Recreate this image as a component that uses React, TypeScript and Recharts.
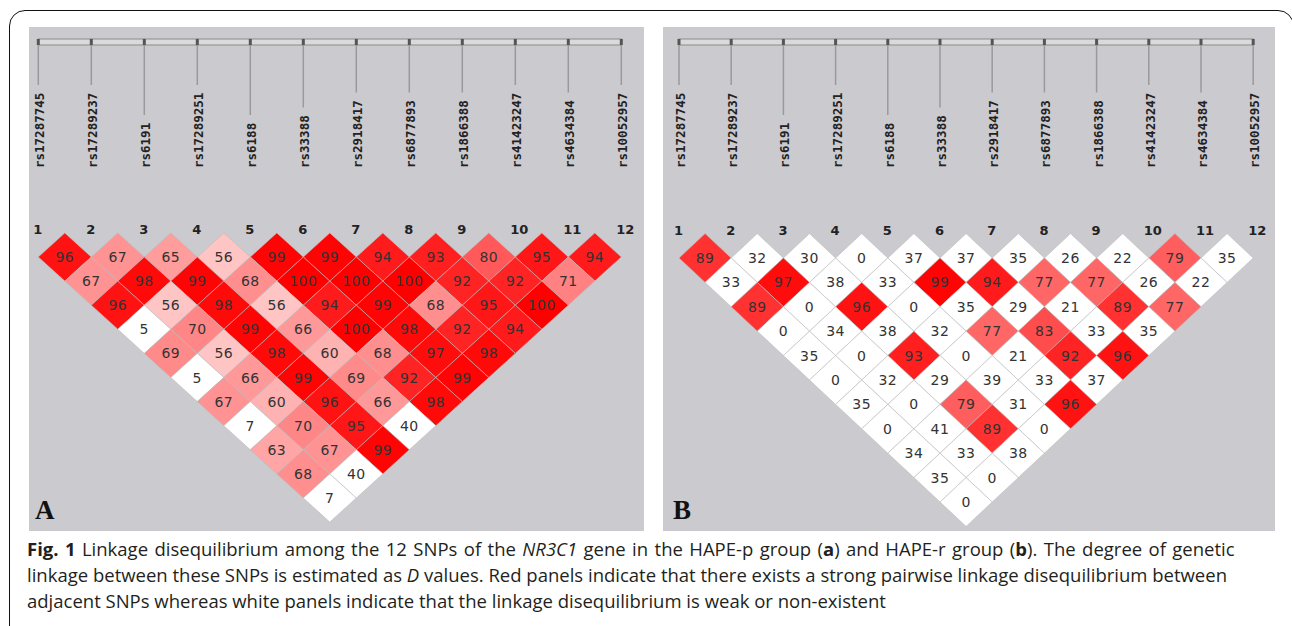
import React from "react";
import { ScatterChart, Scatter, XAxis, YAxis } from "recharts";

// SNP markers along the gene, in order
const snpNames = [
  "rs17287745",
  "rs17289237",
  "rs6191",
  "rs17289251",
  "rs6188",
  "rs33388",
  "rs2918417",
  "rs6877893",
  "rs1866388",
  "rs41423247",
  "rs4634384",
  "rs10052957",
];

// D' x 100, row k holds the pairs (i, i+k)
const hapePRows: number[][] = [
  [96, 67, 65, 56, 99, 99, 94, 93, 80, 95, 94],
  [67, 98, 99, 68, 100, 100, 100, 92, 92, 71],
  [96, 56, 98, 56, 94, 99, 68, 95, 100],
  [5, 70, 99, 66, 100, 98, 92, 94],
  [69, 56, 98, 60, 68, 97, 98],
  [5, 66, 99, 69, 92, 99],
  [67, 60, 96, 66, 98],
  [7, 70, 95, 40],
  [63, 67, 99],
  [68, 40],
  [7],
];

const hapeRRows: number[][] = [
  [89, 32, 30, 0, 37, 37, 35, 26, 22, 79, 35],
  [33, 97, 38, 33, 99, 94, 77, 77, 26, 22],
  [89, 0, 96, 0, 35, 29, 21, 89, 77],
  [0, 34, 38, 32, 77, 83, 33, 35],
  [35, 0, 93, 0, 21, 92, 96],
  [0, 32, 29, 39, 33, 37],
  [35, 0, 79, 31, 96],
  [0, 41, 89, 0],
  [34, 33, 38],
  [35, 0],
  [0],
];

const PANEL_TOP = 27;
const PANEL_H = 504;

type PanelCfg = {
  letter: string;
  left: number;
  width: number;
  m1: number; // x of marker 1 inside panel
  sp: number; // marker spacing
  row1: number; // y of first row inside panel
  step: number; // row step
  rows: number[][];
};

const panels: PanelCfg[] = [
  { letter: "A", left: 29, width: 615, m1: 9.3, sp: 53.0, row1: 230, step: 24.1, rows: hapePRows },
  { letter: "B", left: 663, width: 612, m1: 16, sp: 52.2, row1: 231, step: 24.4, rows: hapeRRows },
];

const cellColor = (v: number) => {
  if (v < 50) return "#ffffff";
  const g = Math.max(0, Math.min(255, Math.round(446 * (1 - v / 100))));
  return `rgb(255,${g},${g})`;
};

const buildCells = (rows: number[][]) => {
  const out: { x: number; y: number; v: number }[] = [];
  rows.forEach((row, ki) => {
    const k = ki + 1;
    row.forEach((v, ii) => {
      out.push({ x: ii + 1 + k / 2, y: k, v });
    });
  });
  return out;
};

const markerData = snpNames.map((name, i) => ({ x: i + 1, y: 0, idx: i + 1, name }));

const LDPanel: React.FC<{ cfg: PanelCfg }> = ({ cfg }) => {
  const { sp, step } = cfg;
  const xmin = 1 - cfg.m1 / sp;
  const xmax = xmin + cfg.width / sp;
  const ymin = 1 - cfg.row1 / step;
  const ymax = ymin + PANEL_H / step;
  const cells = buildCells(cfg.rows);
  const hw = sp / 2;
  const hh = step;

  const cellShape = (p: any) => {
    const { cx, cy, payload } = p;
    const pts = `${cx - hw},${cy} ${cx},${cy - hh} ${cx + hw},${cy} ${cx},${cy + hh}`;
    return (
      <g>
        <polygon points={pts} fill={cellColor(payload.v)} stroke="#bdbdbd" strokeOpacity={0.6} strokeWidth={1} />
        <text x={cx} y={cy + 5} textAnchor="middle" fontSize={14} fontFamily="DejaVu Sans" fill="#333" letterSpacing={0.5}>
          {payload.v}
        </text>
      </g>
    );
  };

  const markerShape = (p: any) => {
    const { cx, cy, payload } = p;
    const textBottom = 141;
    const textTop = textBottom - payload.name.length * 7.5;
    const lineEnd = textTop - 8;
    return (
      <g>
        {payload.idx < snpNames.length && (
          <rect x={cx} y={12} width={sp} height={6} fill="#dadada" stroke="#8c8c8c" strokeWidth={1} />
        )}
        <rect x={cx - 1.5} y={12} width={3} height={6} fill="#555" />
        <line x1={cx} y1={18} x2={cx} y2={lineEnd} stroke="#9a9a9a" strokeWidth={1.5} />
        <text
          transform={`translate(${cx + 6},${textBottom}) rotate(-90)`}
          fontFamily="DejaVu Sans Mono"
          fontWeight="bold"
          fontSize={12.5}
          fill="#222"
        >
          {payload.name}
        </text>
        <text x={cx - 5} y={cy + 1.5} fontFamily="DejaVu Sans" fontWeight="bold" fontSize={13} fill="#222">
          {payload.idx}
        </text>
      </g>
    );
  };

  return (
    <div
      style={{
        position: "absolute",
        left: cfg.left,
        top: PANEL_TOP,
        width: cfg.width,
        height: PANEL_H,
        background: "#cbcacf",
      }}
    >
      <ScatterChart width={cfg.width} height={PANEL_H} margin={{ top: 0, right: 0, bottom: 0, left: 0 }}>
        <XAxis type="number" dataKey="x" domain={[xmin, xmax]} hide allowDataOverflow />
        <YAxis type="number" dataKey="y" domain={[ymin, ymax]} reversed hide allowDataOverflow />
        <Scatter data={cells} shape={cellShape} isAnimationActive={false} />
        <Scatter data={markerData} shape={markerShape} isAnimationActive={false} />
      </ScatterChart>
      <div
        style={{
          position: "absolute",
          left: cfg.letter === "A" ? 6 : 10,
          top: 468,
          fontFamily: "Liberation Serif",
          fontWeight: "bold",
          fontSize: 27,
          color: "#111",
        }}
      >
        {cfg.letter}
      </div>
    </div>
  );
};

export default function App() {
  return (
    <div
      style={{
        position: "absolute",
        left: 0,
        top: 0,
        width: 1292,
        height: 626,
        background: "#fff",
        overflow: "hidden",
      }}
    >
      <div
        style={{
          position: "absolute",
          left: 9,
          top: 10,
          width: 1285,
          height: 700,
          border: "1.5px solid #111",
          borderRadius: "16px 16px 0 0",
          boxSizing: "border-box",
        }}
      />
      {panels.map((cfg) => (
        <LDPanel key={cfg.letter} cfg={cfg} />
      ))}
      <div
        style={{
          position: "absolute",
          left: 27,
          top: 536,
          fontFamily: "Open Sans",
          fontSize: 18.5,
          lineHeight: "26px",
          color: "#231f20",
          whiteSpace: "nowrap",
        }}
      >
        <span style={{ wordSpacing: 1.6 }}>
          <b>Fig. 1</b> Linkage disequilibrium among the 12 SNPs of the <i>NR3C1</i> gene in the HAPE-p group (<b>a</b>) and
          HAPE-r group (<b>b</b>). The degree of genetic
        </span>
        <br />
        linkage between these SNPs is estimated as <i>D</i> values. Red panels indicate that there exists a strong pairwise
        linkage disequilibrium between
        <br />
        adjacent SNPs whereas white panels indicate that the linkage disequilibrium is weak or non-existent
      </div>
    </div>
  );
}
